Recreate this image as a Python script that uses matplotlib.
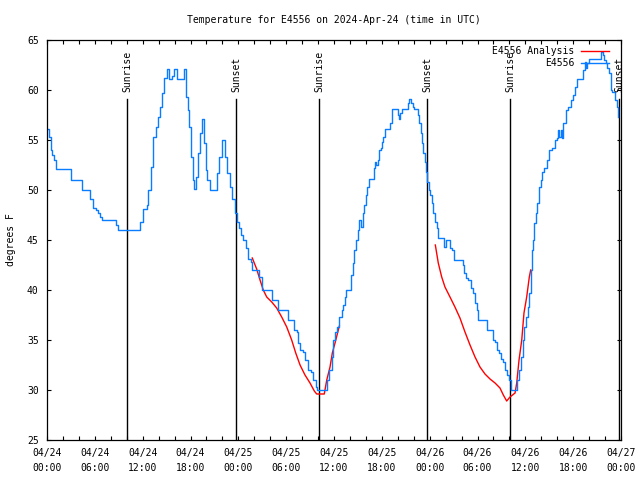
import matplotlib
matplotlib.use("Agg")
import matplotlib.pyplot as plt
import matplotlib.dates as mdates
import pandas as pd

plt.rcParams['font.family'] = ['DejaVu Sans Mono']

title = "Temperature for E4556 on 2024-Apr-24 (time in UTC)"
start = pd.Timestamp("2024-04-24 00:00")

# Observed station temperature (hours since start, deg F)
obs_hours = [0.0, 0.25, 0.46, 0.66, 0.88, 1.09, 3.01, 4.39, 5.39, 5.81, 6.15, 6.43, 6.65, 6.94,
             8.62, 8.87, 11.45, 11.67, 12.08, 12.51, 12.71, 13.05, 13.33, 13.64, 13.96, 14.17,
             14.39, 14.68, 15.01, 15.27, 15.64, 15.97, 16.27, 17.02, 17.19, 17.44, 17.65, 17.81,
             18.03, 18.28, 18.48, 18.69, 18.98, 19.19, 19.44, 19.69, 19.91, 20.11, 20.45, 20.99,
             21.29, 21.61, 21.99, 22.33, 22.62, 22.96, 23.24, 23.58, 23.64, 23.83, 24.08, 24.34,
             24.62, 24.92, 25.25, 25.59, 25.75, 26.43, 26.63, 26.93, 28.10, 28.26, 28.81, 29.01,
             30.07, 30.27, 30.82, 30.98, 31.32, 31.52, 31.74, 32.15, 32.36, 32.78, 33.12, 33.40,
             33.71, 33.87, 34.87, 35.09, 35.37, 35.71, 35.91, 36.13, 36.34, 36.67, 36.97, 37.17,
             37.38, 37.51, 38.01, 38.10, 38.35, 38.55, 38.76, 38.97, 39.17, 39.39, 39.60, 39.80,
             40.01, 40.18, 40.39, 40.93, 41.02, 41.14, 41.27, 41.48, 41.65, 41.86, 42.02, 42.19,
             42.40, 42.94, 43.03, 43.24, 43.94, 44.07, 44.15, 44.28, 44.49, 45.20, 45.32, 45.45,
             45.66, 45.87, 46.04, 46.45, 46.58, 46.70, 46.88, 47.04, 47.20, 47.38, 47.54, 47.70,
             47.88, 48.04, 48.26, 48.46, 48.67, 48.88, 49.08, 49.71, 49.84, 50.05, 50.46, 50.55,
             50.84, 51.09, 52.02, 52.14, 52.35, 52.56, 52.85, 53.15, 53.40, 53.69, 53.90, 54.10,
             54.94, 55.16, 55.70, 55.91, 56.20, 56.49, 56.74, 56.95, 57.24, 57.45, 57.74, 57.99,
             58.17, 58.79, 58.92, 59.21, 59.46, 59.67, 59.87, 60.09, 60.30, 60.50, 60.67, 60.88,
             61.00, 61.13, 61.30, 61.50, 61.72, 61.93, 62.13, 62.34, 62.68, 62.97, 63.31, 63.60,
             63.72, 63.94, 64.14, 64.26, 64.48, 64.56, 64.76, 65.10, 65.39, 65.69, 65.94, 66.23,
             66.52, 67.15, 67.27, 67.49, 67.61, 67.78, 68.03, 69.37, 69.49, 69.71, 69.91, 70.12,
             70.28, 70.50, 70.71, 70.91, 71.25, 71.46, 71.67]
obs_temp = [56.1, 55.3, 54.0, 53.5, 53.0, 52.1, 51.0, 50.0, 49.1, 48.2, 48.0, 47.7, 47.3, 47.0,
            46.5, 46.0, 46.0, 46.8, 48.1, 48.5, 50.0, 52.3, 55.3, 56.3, 57.3, 58.3,
            59.7, 61.2, 62.1, 61.1, 61.4, 62.1, 61.1, 61.1, 62.1, 59.3, 58.0, 56.3,
            53.3, 51.0, 50.1, 51.3, 53.7, 55.7, 57.1, 54.7, 52.0, 51.0, 50.0, 50.0,
            51.7, 53.3, 55.0, 53.3, 51.7, 50.3, 49.1, 49.0, 47.7, 46.8, 46.2, 45.5,
            45.0, 44.2, 43.1, 42.8, 42.0, 42.0, 41.3, 40.0, 40.0, 39.0, 39.0, 38.0,
            38.0, 37.0, 37.0, 36.0, 35.8, 34.7, 34.0, 33.8, 33.0, 32.0, 31.8, 31.0,
            30.3, 30.0, 30.0, 31.0, 32.0, 33.3, 35.0, 35.8, 36.3, 37.3, 38.0, 38.5,
            39.3, 40.0, 40.0, 41.5, 42.7, 44.0, 45.0, 46.0, 47.0, 46.3, 47.7, 48.5,
            49.5, 50.3, 51.1, 51.1, 52.2, 52.8, 52.5, 53.0, 54.0, 54.2, 54.8, 55.3,
            56.1, 56.1, 56.7, 58.1, 58.1, 57.5, 57.1, 57.7, 58.1, 58.1, 58.7, 59.1,
            58.7, 58.3, 58.1, 58.1, 57.5, 56.7, 55.7, 54.7, 53.7, 52.8, 51.8, 50.8,
            50.0, 49.5, 48.7, 47.7, 46.8, 46.2, 45.2, 45.2, 44.3, 45.0, 45.0, 44.2,
            44.0, 43.0, 43.0, 42.5, 41.7, 41.2, 41.0, 40.2, 39.7, 38.7, 38.0, 37.0,
            37.0, 36.0, 36.0, 35.0, 34.8, 34.0, 33.7, 33.1, 32.8, 32.0, 31.5, 31.0,
            30.0, 30.0, 31.0, 32.0, 33.3, 35.0, 36.3, 37.3, 38.3, 39.7, 42.0, 44.0,
            45.0, 46.7, 47.7, 48.7, 50.3, 51.0, 51.8, 52.2, 53.0, 54.0, 54.2, 54.2,
            55.0, 55.2, 56.0, 55.3, 56.0, 55.2, 56.7, 58.0, 58.3, 59.0, 59.5, 60.3,
            61.1, 61.1, 62.0, 62.8, 62.2, 62.7, 63.1, 63.1, 63.8, 63.5, 63.0, 62.7,
            62.2, 61.7, 60.0, 59.8, 59.0, 58.3, 57.3]

# Analysis temperature, two nighttime segments
ana1_hours = [25.75, 26.30, 26.72, 27.13, 27.56, 28.19, 28.81, 29.44, 30.07, 30.69, 31.20, 31.74,
              32.36, 32.99, 33.53, 33.83, 34.78, 35.09, 35.50, 35.79, 36.13, 36.67]
ana1_temp = [43.2, 42.1, 41.0, 40.0, 39.3, 38.8, 38.2, 37.3, 36.3, 35.0, 33.7, 32.5,
             31.5, 30.7, 29.9, 29.6, 29.6, 31.0, 32.3, 33.7, 34.7, 36.4]
ana2_hours = [48.71, 49.08, 49.51, 49.92, 50.55, 51.17, 51.80, 52.43, 53.06, 53.69, 54.31, 54.94,
              55.57, 56.20, 56.82, 57.24, 57.66, 58.08, 58.71, 58.92, 59.21, 59.55, 59.83, 60.17,
              60.50, 60.67]
ana2_temp = [44.5, 42.7, 41.3, 40.3, 39.3, 38.3, 37.2, 35.8, 34.5, 33.3, 32.3, 31.6,
             31.1, 30.7, 30.2, 29.5, 28.9, 29.3, 29.7, 30.7, 33.0, 35.0, 37.7, 39.3,
             41.3, 42.0]

# Sun events (hours since start)
sun_hours = [10.03, 23.71, 34.12, 47.67, 58.08, 71.75]
sun_labels = ["Sunrise", "Sunset", "Sunrise", "Sunset", "Sunrise", "Sunset"]

y_ticks = [25, 30, 35, 40, 45, 50, 55, 60, 65]


def to_time(hours):
    return start + pd.to_timedelta(pd.Series(hours), unit="h")


blue = "#0a7cff"
fig = plt.figure(figsize=(6.4, 4.8), dpi=100)
ax = fig.add_axes([47 / 640, 1 - 440 / 480, 574 / 640, 400 / 480])

sun_top = 59.1
for h, lab in zip(sun_hours, sun_labels):
    t = to_time([h])[0]
    ax.plot([t, t], [25, sun_top], color="black", lw=1.0, zorder=1)
    ax.text(t, 59.8, lab, rotation=90, rotation_mode="anchor", ha="left", va="center",
            fontsize=7, zorder=3)

ax.plot(to_time(ana1_hours), ana1_temp, color="red", lw=1.0, label="E4556 Analysis", zorder=2)
ax.plot(to_time(ana2_hours), ana2_temp, color="red", lw=1.0, zorder=2)
ax.plot(to_time(obs_hours), obs_temp, color=blue, lw=1.0, drawstyle="steps-post",
        label="E4556", zorder=2.5)

ax.set_xlim(start, start + pd.Timedelta(hours=72))
ax.set_ylim(25, 65)
ax.set_yticks(y_ticks)
ax.xaxis.set_major_locator(mdates.HourLocator(byhour=[0, 6, 12, 18]))
ax.xaxis.set_minor_locator(mdates.HourLocator(byhour=range(0, 24, 2)))
ax.xaxis.set_major_formatter(mdates.DateFormatter("%m/%d\n%H:%M"))
ax.tick_params(axis="both", which="both", direction="in", top=True, right=True,
               length=3, width=0.8, labelsize=7)
ax.tick_params(axis="x", which="major", pad=6)
ax.tick_params(axis="y", which="major", pad=6)
for lab in ax.get_xticklabels():
    lab.set_linespacing(1.6)
for sp in ax.spines.values():
    sp.set_linewidth(0.9)

ax.set_title(title, fontsize=7, pad=12)
ax.set_ylabel("degrees F", fontsize=7)
ax.yaxis.set_label_coords(-31 / 574, 0.5)

leg = ax.legend(loc="upper right", bbox_to_anchor=(562 / 574, 0.985),
                frameon=False, markerfirst=False, fontsize=7, handlelength=2.9,
                handletextpad=0.7, labelspacing=0.25, borderpad=0, borderaxespad=0)

fig.savefig("out.png", dpi=100)
